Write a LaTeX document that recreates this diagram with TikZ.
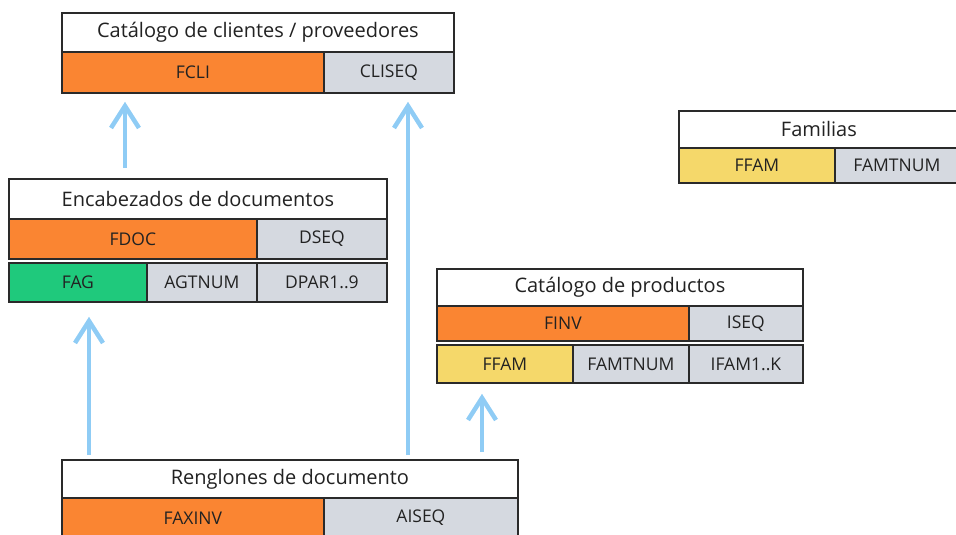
\documentclass[tikz,border=0pt]{standalone}
\usepackage{fontspec}
\setmainfont{Open Sans}
\usetikzlibrary{arrows.meta}
\definecolor{naranja}{HTML}{FA8532}
\definecolor{gris}{HTML}{D5D9E0}
\definecolor{verde}{HTML}{1FC97C}
\definecolor{amarillo}{HTML}{F5D86A}
\definecolor{celeste}{HTML}{8FCCF5}
\definecolor{borde}{HTML}{2A2A2A}
\definecolor{texto}{HTML}{222222}
\begin{document}
\begin{tikzpicture}[x=1pt,y=-1pt,
  celda/.style={draw=borde, line width=1.8pt, anchor=north west, inner sep=0pt, text=texto, font=\fontsize{17.5}{19}\selectfont},
  titulo/.style={celda, fill=white, font=\fontsize{20}{22}\selectfont},
  flecha/.style={draw=celeste, line width=4.5pt, -{Straight Barb[length=22pt,width=28pt]}}]
\clip (0,0) rectangle (956,535);
% Catalogo de clientes / proveedores
\node[titulo, minimum width=392, minimum height=39] (cliT) at (61,12) {Catálogo de clientes / proveedores};
\node[celda, fill=naranja, minimum width=262, minimum height=41] (fcli) at (61,51) {FCLI};
\node[celda, fill=gris, minimum width=130, minimum height=41] (cliseq) at (323,51) {CLISEQ};
% Encabezados de documentos
\node[titulo, minimum width=378, minimum height=40] (encT) at (8,178) {Encabezados de documentos};
\node[celda, fill=naranja, minimum width=248, minimum height=40] (fdoc) at (8,218) {FDOC};
\node[celda, fill=gris, minimum width=130, minimum height=40] (dseq) at (256,218) {DSEQ};
\node[celda, fill=verde, minimum width=138, minimum height=39] (fag) at (8,262) {FAG};
\node[celda, fill=gris, minimum width=110, minimum height=39] (agtnum) at (146,262) {AGTNUM};
\node[celda, fill=gris, minimum width=130, minimum height=39] (dpar) at (256,262) {DPAR1..9};
% Familias
\node[titulo, minimum width=280, minimum height=37] (famT) at (678,110) {Familias};
\node[celda, fill=amarillo, minimum width=156, minimum height=35] (ffam) at (678,147) {FFAM};
\node[celda, fill=gris, minimum width=124, minimum height=35] (famtnum) at (834,147) {FAMTNUM};
% Catalogo de productos
\node[titulo, minimum width=366, minimum height=37] (prodT) at (436,268) {Catálogo de productos};
\node[celda, fill=naranja, minimum width=252, minimum height=35] (finv) at (436,305) {FINV};
\node[celda, fill=gris, minimum width=114, minimum height=35] (iseq) at (688,305) {ISEQ};
\node[celda, fill=amarillo, minimum width=136, minimum height=38] (pffam) at (436,344) {FFAM};
\node[celda, fill=gris, minimum width=116, minimum height=38] (pfamtnum) at (572,344) {FAMTNUM};
\node[celda, fill=gris, minimum width=114, minimum height=38] (ifam) at (688,344) {IFAM1..K};
% Renglones de documento
\node[titulo, minimum width=456, minimum height=38] (renT) at (61,459) {Renglones de documento};
\node[celda, fill=naranja, minimum width=262, minimum height=40] (faxinv) at (61,497) {FAXINV};
\node[celda, fill=gris, minimum width=194, minimum height=40] (aiseq) at (323,497) {AISEQ};
% relaciones
\draw[flecha, shorten <=10pt, shorten >=8pt] ([xshift=117pt]encT.north west) -- ([xshift=64pt]fcli.south west);
\draw[flecha, shorten <=4pt, shorten >=8pt] ([xshift=347pt]renT.north west) -- ([xshift=85pt]cliseq.south west);
\draw[flecha, shorten <=4pt, shorten >=14pt] ([xshift=28pt]renT.north west) -- ([xshift=81pt]fag.south west);
\draw[flecha, shorten <=7pt, shorten >=10pt] ([xshift=421pt]renT.north west) -- ([xshift=46pt]pffam.south west);
\end{tikzpicture}
\end{document}
